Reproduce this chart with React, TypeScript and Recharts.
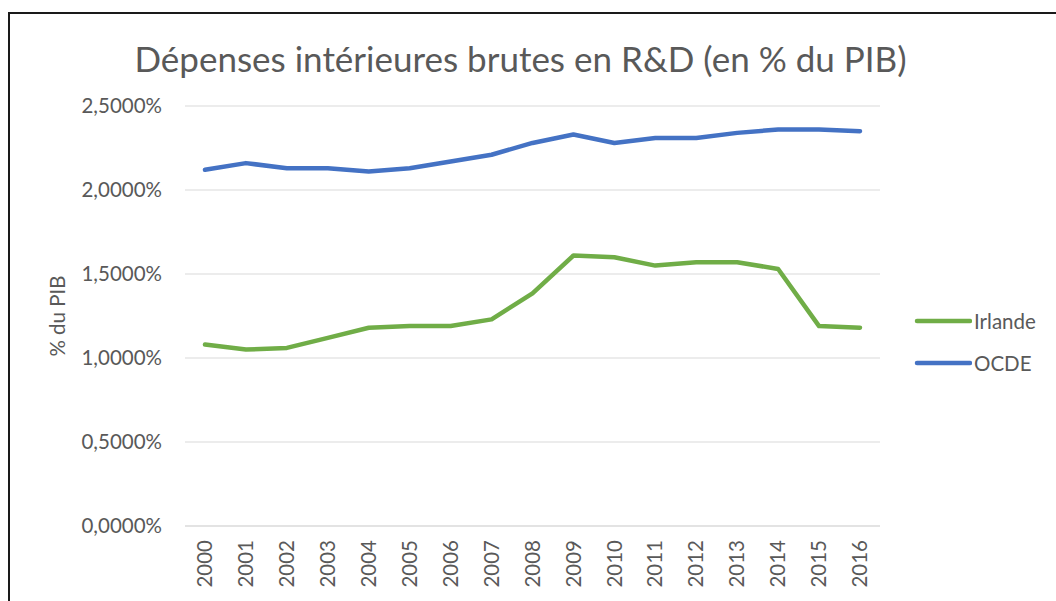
import { LineChart, Line, XAxis, YAxis, CartesianGrid, Legend } from "recharts"

// Dépenses intérieures brutes en R&D, en % du PIB
const years = ["2000", "2001", "2002", "2003", "2004", "2005", "2006", "2007", "2008", "2009", "2010", "2011", "2012", "2013", "2014", "2015", "2016"]
const irlande = [1.08, 1.05, 1.06, 1.12, 1.18, 1.19, 1.19, 1.23, 1.385, 1.61, 1.6, 1.55, 1.57, 1.57, 1.53, 1.19, 1.18]
const ocde = [2.12, 2.16, 2.13, 2.13, 2.11, 2.13, 2.17, 2.21, 2.28, 2.33, 2.28, 2.31, 2.31, 2.34, 2.36, 2.36, 2.35]
const yTicks = [0, 0.5, 1, 1.5, 2, 2.5]

const data = years.map((year, i) => ({ year, irlande: irlande[i], ocde: ocde[i] }))

const FONT = "Lato, 'Open Sans', sans-serif"
const TEXT = "#595959"

const formatPct = (v: number) => v.toFixed(4).replace(".", ",") + "%"

const YearTick = ({ x, y, payload }: any) => (
  <text
    x={x}
    y={y}
    transform={`rotate(-90, ${x}, ${y})`}
    textAnchor="end"
    dy="0.35em"
    fill={TEXT}
    fontSize={20.5}
    fontFamily={FONT}
  >
    {payload.value}
  </text>
)

const renderLegend = ({ payload }: any) => (
  <div>
    {(payload || []).map((entry: any) => (
      <div key={entry.value} style={{ display: "flex", alignItems: "center", height: 42 }}>
        <svg width={58} height={10}>
          <line x1={3} x2={56} y1={5} y2={5} stroke={entry.color} strokeWidth={4.5} strokeLinecap="round" />
        </svg>
        <span style={{ marginLeft: 2, fontFamily: FONT, fontSize: 20.5, color: TEXT }}>{entry.value}</span>
      </div>
    ))}
  </div>
)

export default function App() {
  return (
    <div
      style={{
        position: "absolute",
        left: 0,
        top: 0,
        width: 1056,
        height: 601,
        background: "#fff",
        overflow: "hidden",
        fontFamily: FONT,
      }}
    >
      {/* frame, cut off on the right and bottom */}
      <div
        style={{
          position: "absolute",
          left: 8,
          top: 12,
          width: 1060,
          height: 600,
          borderLeft: "2px solid #1a1a1a",
          borderTop: "2px solid #1a1a1a",
        }}
      />
      <div
        style={{
          position: "absolute",
          left: 0,
          top: 41,
          width: 1041,
          textAlign: "center",
          fontSize: 35,
          lineHeight: "35px",
          color: TEXT,
          whiteSpace: "nowrap",
        }}
      >
        Dépenses intérieures brutes en R&amp;D (en % du PIB)
      </div>
      <LineChart
        width={1056}
        height={601}
        data={data}
        margin={{ top: 106, right: 176, bottom: 0, left: 0 }}
        style={{ position: "absolute", left: 0, top: 0 }}
      >
        <CartesianGrid vertical={false} stroke="#d9d9d9" strokeWidth={1.2} />
        <XAxis
          dataKey="year"
          height={75}
          padding={{ left: 20, right: 20 }}
          axisLine={{ stroke: "#d9d9d9", strokeWidth: 1.2 }}
          tickLine={false}
          tickSize={0}
          tickMargin={14}
          interval={0}
          tick={<YearTick />}
        />
        <YAxis
          width={185}
          domain={[0, 2.5]}
          ticks={yTicks}
          tickFormatter={formatPct}
          axisLine={false}
          tickLine={false}
          tickSize={0}
          tickMargin={23}
          tick={{ fill: TEXT, fontSize: 20.5, fontFamily: FONT }}
          label={{
            value: "% du PIB",
            angle: -90,
            position: "insideLeft",
            offset: 58,
            style: { textAnchor: "middle", fill: TEXT, fontSize: 20.5, fontFamily: FONT },
          }}
        />
        <Legend
          layout="vertical"
          align="center"
          verticalAlign="middle"
          content={renderLegend}
          wrapperStyle={{ left: 914, top: 300, width: 142 }}
        />
        <Line
          type="linear"
          dataKey="irlande"
          name="Irlande"
          stroke="#70AD47"
          strokeWidth={4.5}
          strokeLinecap="round"
          strokeLinejoin="round"
          dot={false}
          isAnimationActive={false}
        />
        <Line
          type="linear"
          dataKey="ocde"
          name="OCDE"
          stroke="#4472C4"
          strokeWidth={4.5}
          strokeLinecap="round"
          strokeLinejoin="round"
          dot={false}
          isAnimationActive={false}
        />
      </LineChart>
    </div>
  )
}
